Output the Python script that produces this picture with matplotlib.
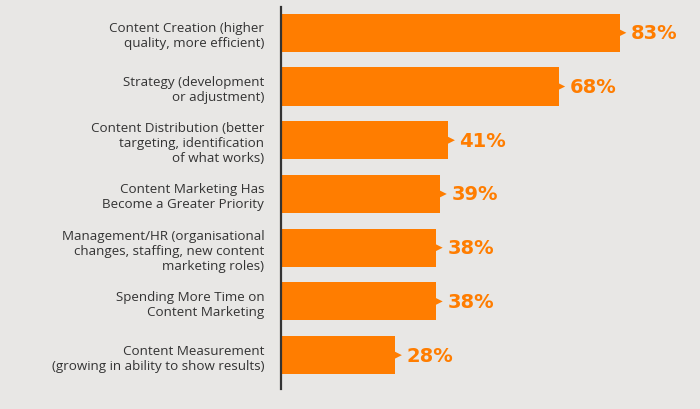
import matplotlib.pyplot as plt
import numpy as np

categories = [
    "Content Creation (higher\nquality, more efficient)",
    "Strategy (development\nor adjustment)",
    "Content Distribution (better\ntargeting, identification\nof what works)",
    "Content Marketing Has\nBecome a Greater Priority",
    "Management/HR (organisational\nchanges, staffing, new content\nmarketing roles)",
    "Spending More Time on\nContent Marketing",
    "Content Measurement\n(growing in ability to show results)",
]
values = [83, 68, 41, 39, 38, 38, 28]

bg = "#e8e7e5"
orange = "#ff7d00"

fig = plt.figure(figsize=(7, 4.1), dpi=100, facecolor=bg)
ax = fig.add_axes([281 / 700, 1 - 390 / 410, 400 / 700, 382 / 410])
ax.set_facecolor(bg)

y = np.arange(len(values))
ax.barh(y, values, height=0.71, color=orange, edgecolor="none")
# small arrow tips at bar ends
ax.scatter(values, y, marker=">", s=90, color=orange, edgecolors="none", zorder=3)

for yi, v in zip(y, values):
    ax.annotate(f"{v}%", (v, yi), xytext=(8, 0), textcoords="offset points",
                va="center", ha="left", fontsize=14, fontweight="bold",
                color=orange, family="DejaVu Sans")

ax.set_xlim(0, 98)
ax.set_ylim(6.63, -0.48)
ax.set_yticks(y)
ax.set_yticklabels(categories, fontsize=9.6, color="#333333", family="Open Sans",
                   ha="right", linespacing=1.2)
ax.tick_params(axis="y", length=0, pad=12)
ax.set_xticks([])
for s in ["top", "right", "bottom"]:
    ax.spines[s].set_visible(False)
ax.spines["left"].set_color("#333333")
ax.spines["left"].set_linewidth(1.6)

fig.savefig("out.png", dpi=100, facecolor=bg)
